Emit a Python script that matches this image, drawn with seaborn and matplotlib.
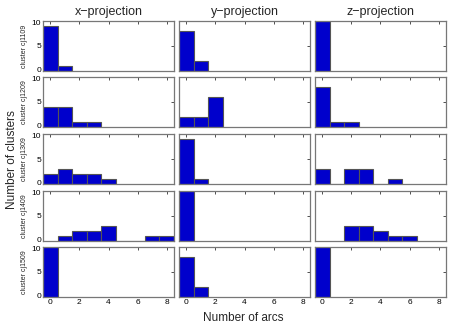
import numpy as np
import pandas as pd
import matplotlib
matplotlib.use("Agg")
import matplotlib.pyplot as plt
import matplotlib.transforms as mtransforms
import seaborn as sns

arcs = np.arange(9)
clusters = ["cj1109", "cj1209", "cj1309", "cj1409", "cj1509"]
projections = ["x", "y", "z"]

# number of clusters per number of arcs, one list per (cluster, projection)
x_counts = [
    [9, 1],
    [4, 4, 1, 1],
    [2, 3, 2, 2, 1],
    [0, 1, 2, 2, 3, 0, 0, 1, 1],
    [10],
]
y_counts = [
    [8, 2],
    [2, 2, 6],
    [9, 1],
    [10],
    [8, 2],
]
z_counts = [
    [10],
    [8, 1, 1],
    [3, 0, 3, 3, 0, 1],
    [0, 0, 3, 3, 2, 1, 1],
    [10],
]
counts = {"x": x_counts, "y": y_counts, "z": z_counts}

rows = []
for p in projections:
    for i, c in enumerate(clusters):
        for a, n in enumerate(counts[p][i]):
            if n > 0:
                rows.append((c, p, a, n))
df = pd.DataFrame(rows, columns=["cluster", "projection", "arcs", "n"])

sns.set_style("white")
plt.rcParams["font.family"] = ["Liberation Sans", "DejaVu Sans"]

fig = plt.figure(figsize=(4.49, 3.27), dpi=100)
W, H = 449.0, 327.0
lefts = [43, 179, 315]
width = 131
tops = [21, 77, 134, 191, 247]
height = 50

for i, c in enumerate(clusters):
    for j, p in enumerate(projections):
        ax = fig.add_axes([lefts[j] / W, 1 - (tops[i] + height) / H, width / W, height / H])
        sub = df[(df.cluster == c) & (df.projection == p)]
        sns.histplot(data=sub, x="arcs", weights="n", discrete=True, ax=ax,
                     color="#0000CC", alpha=1, edgecolor="#555555", linewidth=0.8)
        ax.set_xlim(-0.5, 8.5)
        ax.set_ylim(0, 10)
        ax.set_xticks([0, 2, 4, 6, 8])
        ax.set_yticks([0, 5, 10])
        ax.tick_params(direction="in", length=2, width=0.6, top=True, right=True,
                       labelsize=6, pad=1.5, colors="#333333", labelcolor="black")
        for s in ax.spines.values():
            s.set_color("#777777")
            s.set_linewidth(0.9)
        ax.set_xlabel("")
        ax.set_ylabel("")
        if j != 0:
            ax.set_yticklabels([])
        else:
            ylabels = ax.get_yticklabels()
            up = mtransforms.ScaledTranslation(0, 1.2 / 72, fig.dpi_scale_trans)
            down = mtransforms.ScaledTranslation(0, -1.2 / 72, fig.dpi_scale_trans)
            ylabels[0].set_transform(ylabels[0].get_transform() + up)
            ylabels[-1].set_transform(ylabels[-1].get_transform() + down)
        if i != len(clusters) - 1:
            ax.set_xticklabels([])
        if i == 0:
            ax.set_title(p + "\u2212projection", fontsize=9, pad=4)
    fig.text(25 / W, 1 - (tops[i] + height / 2) / H, "cluster " + c, ha="center",
             va="center", rotation=90, fontsize=5)

fig.text(243 / W, 1 - 318 / H, "Number of arcs", ha="center", va="center", fontsize=8.5)
fig.text(12 / W, 1 - 160 / H, "Number of clusters", ha="center", va="center",
         rotation=90, fontsize=8.5)

fig.savefig("out.png", dpi=100)
